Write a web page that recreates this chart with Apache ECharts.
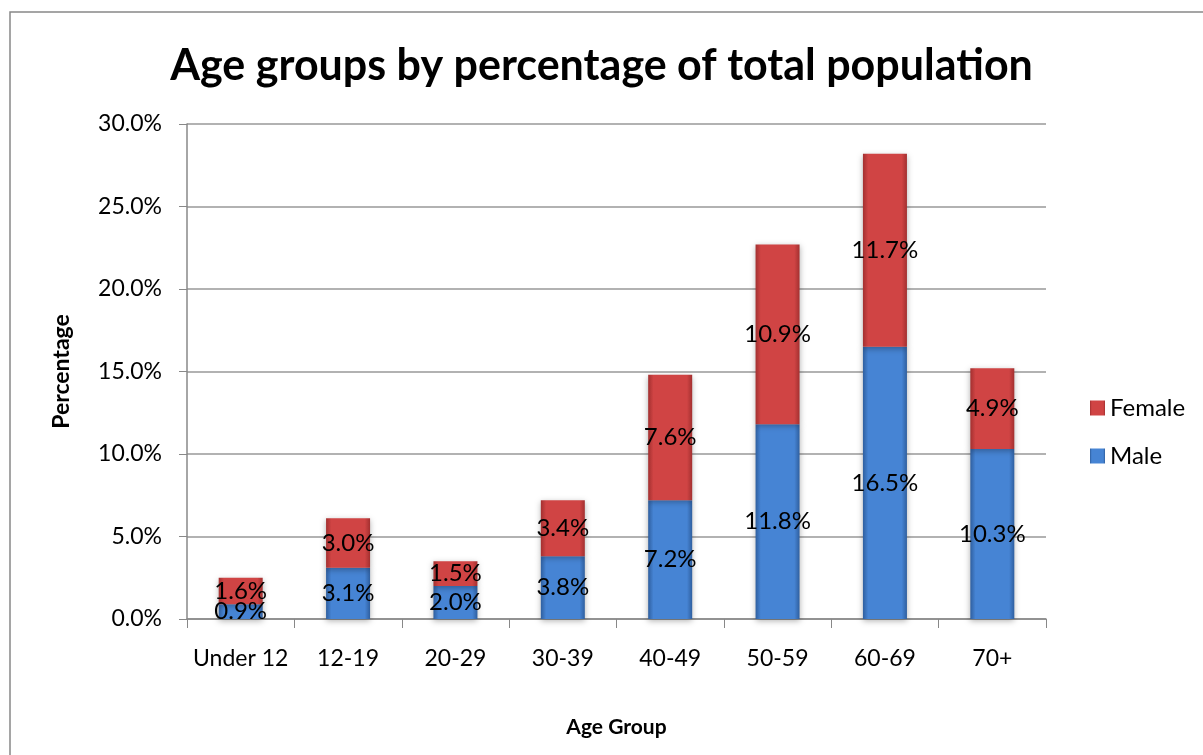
<!DOCTYPE html>
<html><head><meta charset="utf-8">
<script src="https://cdn.jsdelivr.net/npm/echarts@6/dist/echarts.min.js"></script>
<style>html,body{margin:0;padding:0;background:#fff}#c{width:1203px;height:755px}</style>
</head><body><div id="c"></div>
<script>
const categories = ['Under 12','12-19','20-29','30-39','40-49','50-59','60-69','70+'];
const male = [0.9, 3.1, 2.0, 3.8, 7.2, 11.8, 16.5, 10.3];
const female = [1.6, 3.0, 1.5, 3.4, 7.6, 10.9, 11.7, 4.9];
const yTicks = {min: 0, max: 30, interval: 5};

const FONT = 'Lato';
const chart = echarts.init(document.getElementById('c'));
const blueGrad = new echarts.graphic.LinearGradient(0,0,1,0,[
  {offset:0,color:'#2f5f9f'},{offset:0.12,color:'#4684d4'},{offset:0.88,color:'#4684d4'},{offset:1,color:'#2f5f9f'}]);
const redGrad = new echarts.graphic.LinearGradient(0,0,1,0,[
  {offset:0,color:'#a33030'},{offset:0.12,color:'#d04444'},{offset:0.88,color:'#d04444'},{offset:1,color:'#a33030'}]);
const lbl = {show:true, position:'inside', color:'#000', fontFamily:FONT, fontSize:24,
  formatter: p => p.value.toFixed(1) + '%'};
chart.setOption({
  animation:false,
  textStyle:{fontFamily:FONT},
  graphic:[{type:'rect', shape:{x:10,y:12,width:1300,height:800}, style:{fill:'none', stroke:'#888', lineWidth:1.5}}],
  title:{text:'Age groups by percentage of total population', left:'center', top:40,
    textStyle:{fontFamily:FONT, fontWeight:'bold', fontSize:43, color:'#000'}},
  legend:{orient:'vertical', left:1085, top:391, itemGap:24, itemWidth:15, itemHeight:15,
    data:[{name:'Female'},{name:'Male'}], icon:'rect',
    textStyle:{fontFamily:FONT, fontSize:24, color:'#000'}},
  grid:{left:187, right:157, top:124, bottom:136, containLabel:false},
  xAxis:{type:'category', data:categories,
    axisLine:{lineStyle:{color:'#888', width:1.5}},
    axisTick:{show:true, alignWithLabel:false, length:9, lineStyle:{color:'#888'}},
    axisLabel:{color:'#000', fontSize:23, fontFamily:FONT, margin:28, interval:0},
    name:'Age Group', nameLocation:'middle', nameGap:98,
    nameTextStyle:{fontWeight:'bold', fontSize:21, color:'#000', fontFamily:FONT}},
  yAxis:{type:'value', min:yTicks.min, max:yTicks.max, interval:yTicks.interval,
    axisLine:{show:true, lineStyle:{color:'#888', width:1.5}},
    axisTick:{show:true, length:8, lineStyle:{color:'#888'}},
    splitLine:{lineStyle:{color:'#999', width:1.5}},
    axisLabel:{color:'#000', fontSize:23, fontFamily:FONT, margin:25, formatter: v => v.toFixed(1)+'%'},
    name:'Percentage', nameLocation:'middle', nameGap:114, nameRotate:90,
    nameTextStyle:{fontWeight:'bold', fontSize:23, color:'#000', fontFamily:FONT}},
  series:[
    {name:'Male', type:'bar', stack:'a', data:male, barWidth:44,
      itemStyle:{color:blueGrad, shadowColor:'rgba(0,0,0,0.3)', shadowBlur:6, shadowOffsetY:2}, label:lbl},
    {name:'Female', type:'bar', stack:'a', data:female, barWidth:44,
      itemStyle:{color:redGrad, shadowColor:'rgba(0,0,0,0.3)', shadowBlur:6, shadowOffsetY:2}, label:lbl}
  ]
});
</script></body></html>
